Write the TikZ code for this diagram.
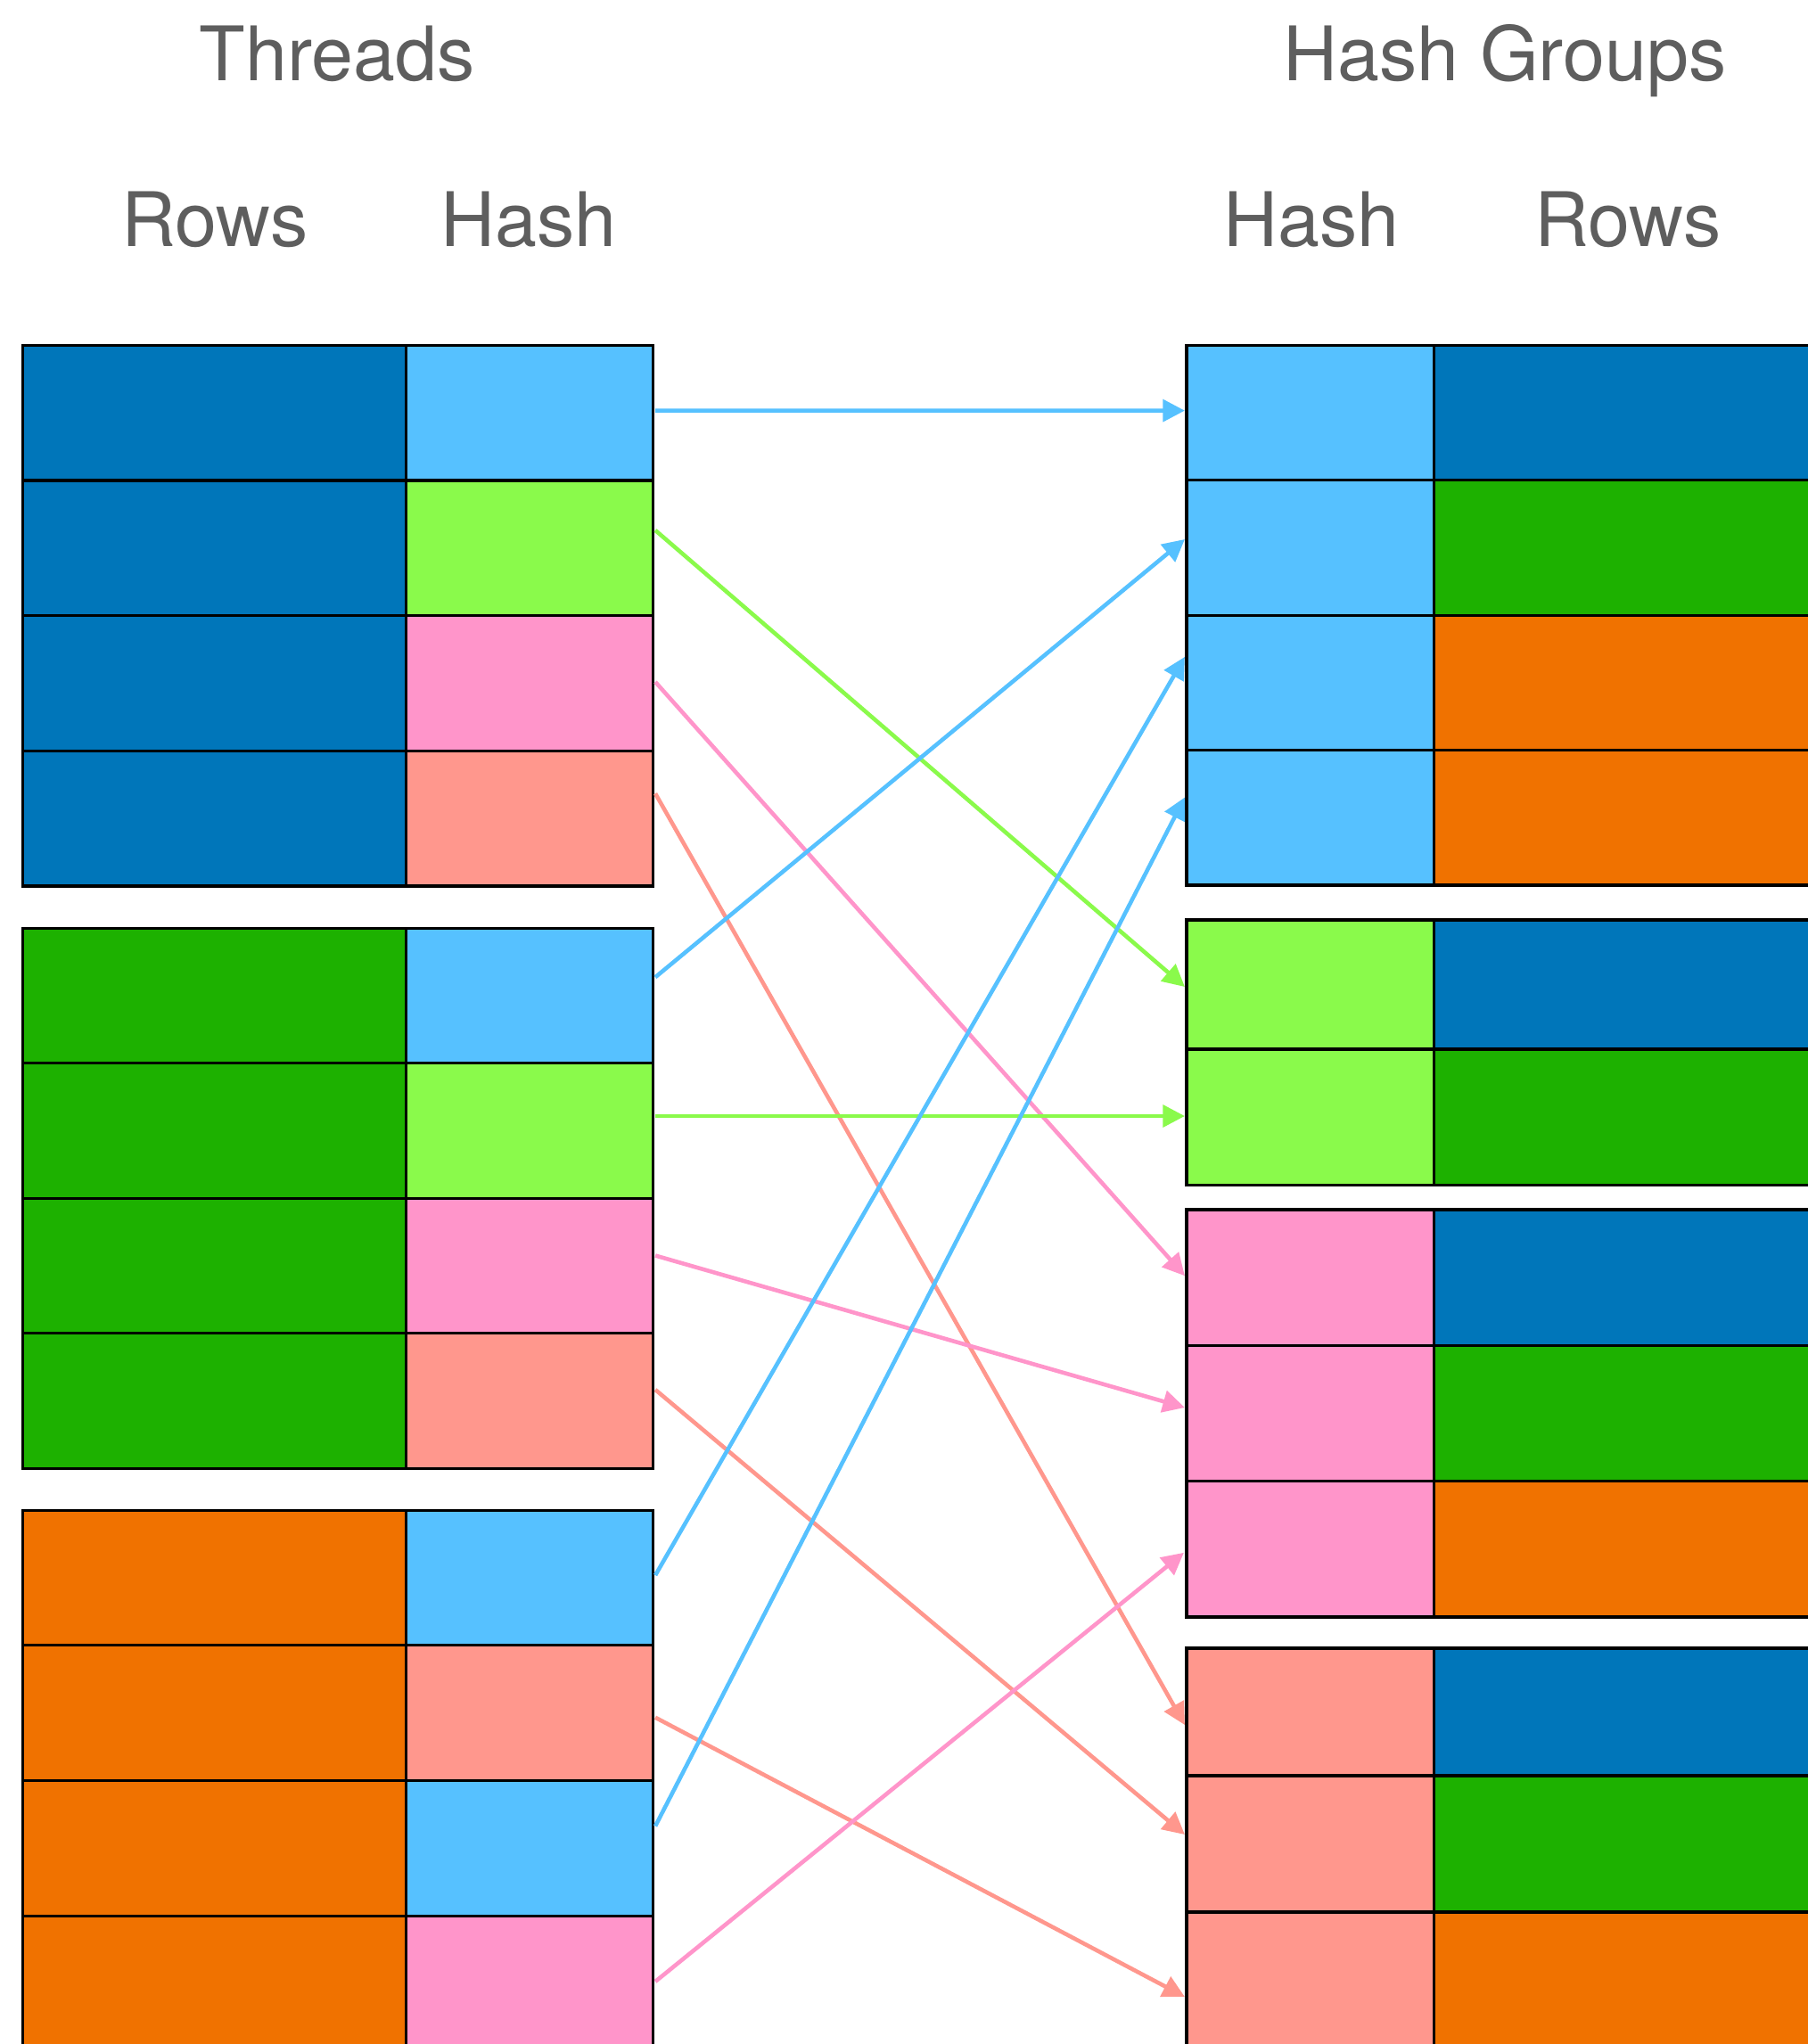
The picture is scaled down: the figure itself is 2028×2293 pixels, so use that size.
\documentclass[tikz,border=0pt]{standalone}
\usepackage{fontspec}
\setmainfont{TeX Gyre Heros}
\usetikzlibrary{arrows.meta}

\definecolor{cDark}{HTML}{0076BA}
\definecolor{cGreen}{HTML}{1DB100}
\definecolor{cOrange}{HTML}{F07200}
\definecolor{hBlue}{HTML}{56C1FF}
\definecolor{hLime}{HTML}{8AFA4B}
\definecolor{hPink}{HTML}{FF95CA}
\definecolor{hSalmon}{HTML}{FF978D}
\definecolor{labelgray}{HTML}{5E5E5E}

% one row of the thread tables: rows cell + hash cell
\newcommand\leftcells[4]{%
  \node[rowcell, fill=#3] (lr#1) at (240.55,#2) {};
  \node[hashcell, fill=#4] (lh#1) at (593.8,#2) {};
}
% one row of the hash-group tables: hash cell + rows cell
\newcommand\rightcells[5]{%
  \node[ghash, minimum height=#3cm, fill=#4] (gh#1) at (1470,#2) {};
  \node[grows, minimum height=#3cm, fill=#5] (gr#1) at (1824.5,#2) {};
}

\begin{document}
\begin{tikzpicture}[x=0.01cm, y=-0.01cm,
  cell/.style={draw=black, line width=0.9pt, inner sep=0pt, outer sep=0pt},
  rowcell/.style={cell, minimum width=4.301cm, minimum height=1.516cm},
  hashcell/.style={cell, minimum width=2.764cm, minimum height=1.516cm},
  ghash/.style={cell, minimum width=2.78cm},
  grows/.style={cell, minimum width=4.31cm},
  title/.style={anchor=base, text=labelgray, inner sep=0pt,
    font=\fontsize{24}{28}\selectfont},
  arr/.style={line width=1.3pt, -{Triangle[length=7pt, width=7pt]}}]

\fill[white] (0,0) rectangle (2028,2293);
\useasboundingbox (0,0) rectangle (2028,2293);
\clip (0,0) rectangle (2028,2293);

% headings
\node[title] (tThreads) at (378,90) {Threads};
\node[title] (tGroups) at (1688,90) {Hash Groups};
\node[title] (tRowsL) at (241,276) {Rows};
\node[title] (tHashL) at (593,276) {Hash};
\node[title] (tHashR) at (1471,276) {Hash};
\node[title] (tRowsR) at (1826,276) {Rows};

% thread 1
\leftcells{11}{463.2}{cDark}{hBlue}
\leftcells{12}{614.9}{cDark}{hLime}
\leftcells{13}{766.5}{cDark}{hPink}
\leftcells{14}{918.2}{cDark}{hSalmon}
% thread 2
\leftcells{21}{1117.2}{cGreen}{hBlue}
\leftcells{22}{1268.6}{cGreen}{hLime}
\leftcells{23}{1420.0}{cGreen}{hPink}
\leftcells{24}{1571.4}{cGreen}{hSalmon}
% thread 3
\leftcells{31}{1770.1}{cOrange}{hBlue}
\leftcells{32}{1921.7}{cOrange}{hSalmon}
\leftcells{33}{2073.3}{cOrange}{hBlue}
\leftcells{34}{2224.9}{cOrange}{hPink}

% group of blue hashes
\rightcells{11}{463.1}{1.514}{hBlue}{cDark}
\rightcells{12}{614.5}{1.514}{hBlue}{cGreen}
\rightcells{13}{765.9}{1.514}{hBlue}{cOrange}
\rightcells{14}{917.3}{1.514}{hBlue}{cOrange}
% group of lime hashes
\rightcells{21}{1104.5}{1.45}{hLime}{cDark}
\rightcells{22}{1253.25}{1.525}{hLime}{cGreen}
% group of pink hashes
\rightcells{31}{1433.2}{1.523}{hPink}{cDark}
\rightcells{32}{1585.5}{1.523}{hPink}{cGreen}
\rightcells{33}{1737.8}{1.523}{hPink}{cOrange}
% group of salmon hashes
\rightcells{41}{1920.5}{1.43}{hSalmon}{cDark}
\rightcells{42}{2068.5}{1.53}{hSalmon}{cGreen}
\rightcells{43}{2221.0}{1.52}{hSalmon}{cOrange}

% hash routing
\draw[arr, hBlue]   ([shift={(3,-2.5)}]lh11.east) -- ([shift={(-2,-2.5)}]gh11.west);
\draw[arr, hLime]   ([shift={(3,-20)}]lh12.east)  -- ([shift={(-2,2.5)}]gh21.west);
\draw[arr, hPink]   ([shift={(3,-1.5)}]lh13.east) -- ([shift={(-2,-2)}]gh31.west);
\draw[arr, hSalmon] ([shift={(3,-28)}]lh14.east)  -- ([shift={(-2,14.5)}]gh41.west);

\draw[arr, hBlue]   ([shift={(3,-21)}]lh21.east)  -- ([shift={(-2,-9.5)}]gh12.west);
\draw[arr, hLime]   ([shift={(3,-16.6)}]lh22.east) -- ([shift={(-2,-1.25)}]gh22.west);
\draw[arr, hPink]   ([shift={(3,-11.5)}]lh23.east) -- ([shift={(-2,-6.5)}]gh32.west);
\draw[arr, hSalmon] ([shift={(3,-12.4)}]lh24.east) -- ([shift={(-2,-10.5)}]gh42.west);

\draw[arr, hBlue]   ([shift={(3,-3)}]lh31.east)   -- ([shift={(-2,-29)}]gh13.west);
\draw[arr, hSalmon] ([shift={(3,5)}]lh32.east)    -- ([shift={(-2,19)}]gh43.west);
\draw[arr, hBlue]   ([shift={(3,-24.8)}]lh33.east) -- ([shift={(-2,-22.8)}]gh14.west);
\draw[arr, hPink]   ([shift={(3,-2)}]lh34.east)   -- ([shift={(-3,4)}]gh33.west);

\end{tikzpicture}
\end{document}
